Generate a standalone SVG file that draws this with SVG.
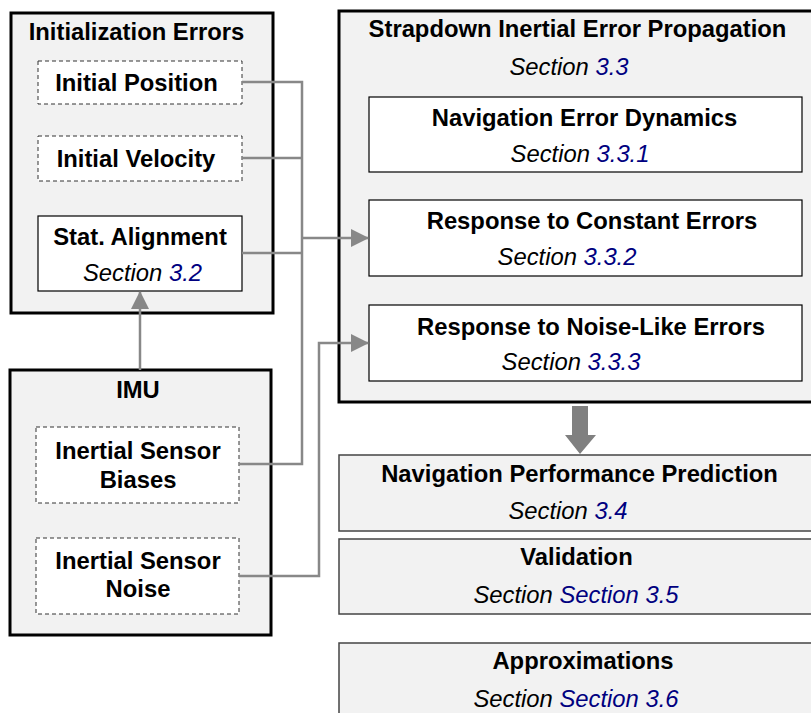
<svg xmlns="http://www.w3.org/2000/svg" width="811" height="713" viewBox="0 0 811 713">
  <style>
    text { font-family: "Liberation Sans", Arial, sans-serif; font-size: 23.8px; fill: #000; text-anchor: middle; }
    .b { font-weight: bold; }
    .i { font-style: italic; }
    .ref { fill: #000080; }
    .group { fill: #f2f2f2; stroke: #000; stroke-width: 3; }
    .sub { fill: #fff; stroke: #000; stroke-width: 1.2; }
    .dash { fill: #fff; stroke: #333; stroke-width: 1; stroke-dasharray: 4 3; }
    .stage { fill: #f2f2f2; stroke: #444; stroke-width: 1.5; }
    .wire { fill: none; stroke: #888; stroke-width: 2.5; }
  </style>
  <defs>
    <marker id="head" viewBox="0 0 18 18" refX="17" refY="9" markerWidth="18" markerHeight="18" markerUnits="userSpaceOnUse" orient="auto">
      <path d="M0,0 L18,9 L0,18 Z" fill="#888"/>
    </marker>
  </defs>

  <rect width="811" height="713" fill="#fff"/>

  <!-- Initialization errors group -->
  <g id="init-errors">
    <rect class="group" x="11" y="13" width="262" height="300"/>
    <text class="b" x="136.5" y="40">Initialization Errors</text>
  </g>
  <g id="initial-position">
    <rect class="dash" x="38" y="61" width="204" height="43"/>
    <text class="b" x="136.5" y="90.5">Initial Position</text>
  </g>
  <g id="initial-velocity">
    <rect class="dash" x="38" y="136" width="204" height="45"/>
    <text class="b" x="136" y="166.5">Initial Velocity</text>
  </g>
  <g id="stat-alignment">
    <rect class="sub" x="38" y="216" width="204" height="75"/>
    <text class="b" x="140" y="245">Stat. Alignment</text>
    <text class="i" x="142.5" y="281">Section <tspan class="ref">3.2</tspan></text>
  </g>

  <!-- IMU group -->
  <g id="imu">
    <rect class="group" x="10" y="370" width="261" height="265"/>
    <text class="b" x="138" y="397.5">IMU</text>
  </g>
  <g id="sensor-biases">
    <rect class="dash" x="36" y="427" width="203" height="76"/>
    <text class="b" x="138" y="459">Inertial Sensor</text>
    <text class="b" x="138" y="488">Biases</text>
  </g>
  <g id="sensor-noise">
    <rect class="dash" x="36" y="538" width="203" height="76"/>
    <text class="b" x="138" y="569">Inertial Sensor</text>
    <text class="b" x="138" y="597">Noise</text>
  </g>

  <!-- Strapdown inertial error propagation group -->
  <g id="strapdown">
    <rect class="group" x="339" y="11" width="490" height="391"/>
    <text class="b" x="577.5" y="37">Strapdown Inertial Error Propagation</text>
    <text class="i" x="569" y="74.5">Section <tspan class="ref">3.3</tspan></text>
  </g>
  <g id="nav-error-dynamics">
    <rect class="sub" x="369" y="97" width="433" height="75"/>
    <text class="b" x="584.5" y="126">Navigation Error Dynamics</text>
    <text class="i" x="580" y="161.5">Section <tspan class="ref">3.3.1</tspan></text>
  </g>
  <g id="constant-errors">
    <rect class="sub" x="369" y="200" width="433" height="76" stroke="#555"/>
    <text class="b" x="592" y="229">Response to Constant Errors</text>
    <text class="i" x="567" y="265">Section <tspan class="ref">3.3.2</tspan></text>
  </g>
  <g id="noise-errors">
    <rect class="sub" x="369" y="305" width="433" height="76" stroke="#555"/>
    <text class="b" x="591" y="334.5">Response to Noise-Like Errors</text>
    <text class="i" x="571" y="369.5">Section <tspan class="ref">3.3.3</tspan></text>
  </g>

  <!-- Downstream stages -->
  <g id="performance-prediction">
    <rect class="stage" x="339" y="455" width="490" height="76"/>
    <text class="b" x="579.5" y="482">Navigation Performance Prediction</text>
    <text class="i" x="568" y="519">Section <tspan class="ref">3.4</tspan></text>
  </g>
  <g id="validation">
    <rect class="stage" x="339" y="539" width="490" height="75"/>
    <text class="b" x="576.5" y="565">Validation</text>
    <text class="i" x="576" y="603">Section <tspan class="ref">Section 3.5</tspan></text>
  </g>
  <g id="approximations">
    <rect class="stage" x="339" y="643" width="490" height="90"/>
    <text class="b" x="583" y="669">Approximations</text>
    <text class="i" x="576" y="706.5">Section <tspan class="ref">Section 3.6</tspan></text>
  </g>

  <!-- Connectors -->
  <g id="connectors">
    <path class="wire" d="M140,370 V292" marker-end="url(#head)"/>
    <path class="wire" d="M242,82 H302 V464 H239"/>
    <path class="wire" d="M242,158 H302"/>
    <path class="wire" d="M242,253 H302"/>
    <path class="wire" d="M302,238 H368" marker-end="url(#head)"/>
    <path class="wire" d="M239,576 H319 V343 H368" marker-end="url(#head)"/>
    <polygon points="572,406 588,406 588,435 596,435 580,454 565,435 572,435" fill="#808080"/>
  </g>
</svg>
